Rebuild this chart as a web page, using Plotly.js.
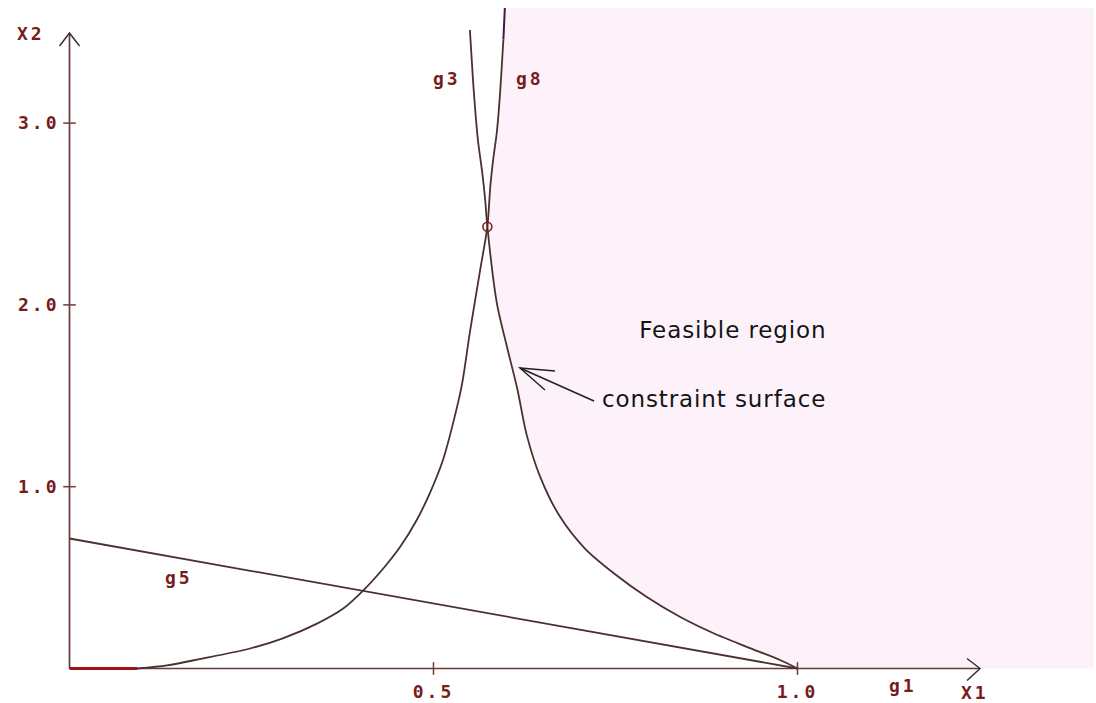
<!DOCTYPE html>
<html><head><meta charset="utf-8">
<script src="https://cdn.plot.ly/plotly-3.0.1.min.js"></script>
<style>
html,body{margin:0;padding:0;background:#fff;}
#chart{width:1096px;height:703px;}
.xtick text, .ytick text { letter-spacing:3px; }
.annotation text { letter-spacing:3px; }
.annotation[data-index="6"] text, .annotation[data-index="7"] text { letter-spacing:0.9px; }
</style>
</head><body><div id="chart"></div>
<script>
// ---- data ----
// g8: rises from the x1 axis near 0.09 and ends at the top right of the cusp
const g8X = [0.093, 0.134, 0.179, 0.248, 0.293, 0.340, 0.376, 0.403, 0.431, 0.454, 0.477, 0.495, 0.513, 0.527, 0.539, 0.550, 0.564, 0.574, 0.578, 0.582, 0.587, 0.591, 0.596];
const g8Y = [0.0, 0.017, 0.052, 0.110, 0.166, 0.247, 0.330, 0.427, 0.550, 0.668, 0.817, 0.965, 1.147, 1.351, 1.56, 1.85, 2.19, 2.43, 2.65, 2.80, 2.95, 3.14, 3.46];
// g3: rises from (1.0, 0) and ends at the top left of the cusp
const g3X = [1.0, 0.976, 0.931, 0.884, 0.839, 0.793, 0.749, 0.708, 0.673, 0.646, 0.628, 0.615, 0.601, 0.587, 0.574, 0.571, 0.567, 0.561, 0.557, 0.554, 0.550];
const g3Y = [0.0, 0.047, 0.118, 0.195, 0.283, 0.393, 0.520, 0.660, 0.840, 1.060, 1.285, 1.540, 1.768, 2.010, 2.43, 2.577, 2.726, 2.907, 3.088, 3.253, 3.512];
// g5: straight line
const g5X = [0.0, 1.0];
const g5Y = [0.715, 0.0];
// g1: short bold piece on the x1 axis
const g1X = [0.0, 0.093];
const g1Y = [0.0, 0.0];
// optimum (cusp)
const optX = [0.574];
const optY = [2.43];
// feasible region extents
const regionLeftX = 0.598;
const regionTopY = 3.633;
const regionRightX = 1.407;
// axes
const xAxisLine = [0, 1.2507];
const yAxisLine = [0, 3.4956];
const xTickVals = [0.5, 1.0];
const xTickText = ['0.5', '1.0'];
const yTickVals = [1.0, 2.0, 3.0];
const yTickText = ['1.0', '2.0', '3.0'];

// ---- geometry helpers ----
const W = 1096, H = 703;
const xr = [-0.09547, 1.41003], yr = [-0.18977, 3.6771];
const pxX = x => (x - xr[0]) / (xr[1] - xr[0]) * W;
const pxY = y => H - (y - yr[0]) / (yr[1] - yr[0]) * H;
const pX = px => px / W;
const pY = py => 1 - py / H;

const axisCol = '#6a3a3a';
const curveCol = '#4a3030';
const labCol = '#761c1c';
const bgiFont = {family: 'DejaVu Sans Mono', size: 18, color: labCol, weight: 'bold'};
const textFont = {family: 'DejaVu Sans', size: 23, color: '#141414'};

// feasible polygon: right of g8 (above cusp) and right of g3 (below cusp)
const cuspY = optY[0];
const polyX = [regionLeftX], polyY = [regionTopY];
for (let i = g8X.length - 1; i >= 0; i--) { if (g8Y[i] >= cuspY) { polyX.push(g8X[i]); polyY.push(g8Y[i]); } }
for (let i = g3X.length - 1; i >= 0; i--) { if (g3Y[i] <= cuspY) { polyX.push(g3X[i]); polyY.push(g3Y[i]); } }
polyX.push(regionRightX, regionRightX, regionLeftX);
polyY.push(0, regionTopY, regionTopY);

const curveLine = {color: curveCol, width: 1.8, shape: 'spline', smoothing: 0.8};
const traces = [
  {x: polyX, y: polyY, mode: 'lines', fill: 'toself', fillcolor: '#fdf2fa', line: {width: 0}, hoverinfo: 'skip'},
  {x: [regionLeftX, g8X[g8X.length-1]], y: [regionTopY, g8Y[g8Y.length-1]], mode: 'lines', line: {color: '#4a1548', width: 2}},
  {x: xAxisLine, y: [0, 0], mode: 'lines', line: {color: axisCol, width: 1.7}},
  {x: [0, 0], y: yAxisLine, mode: 'lines', line: {color: axisCol, width: 1.7}},
  {x: xTickVals, y: xTickVals.map(() => 0), mode: 'markers', marker: {symbol: 'line-ns', size: 9, line: {color: axisCol, width: 1.5}}},
  {x: yTickVals.map(() => 0), y: yTickVals, mode: 'markers', marker: {symbol: 'line-ew', size: 9, line: {color: axisCol, width: 1.5}}},
  {x: g5X, y: g5Y, mode: 'lines', line: {color: curveCol, width: 1.8}},
  {x: g8X, y: g8Y, mode: 'lines', line: curveLine},
  {x: g3X, y: g3Y, mode: 'lines', line: curveLine},
  {x: g1X, y: g1Y, mode: 'lines', line: {color: '#a01212', width: 3}},
  {x: optX, y: optY, mode: 'markers', marker: {symbol: 'circle-open', size: 9, color: '#8b1a1a', line: {width: 1.6, color: '#8b1a1a'}}}
];

// arrowheads of the axes (open V), built in pixels around the axis ends
const yTipPx = [pxX(0), pxY(yAxisLine[1])];
const xTipPx = [pxX(xAxisLine[1]), pxY(0)];
const vPath = (a, tip, b) => `M${pX(a[0])},${pY(a[1])} L${pX(tip[0])},${pY(tip[1])} L${pX(b[0])},${pY(b[1])}`;
// constraint-surface pointer
const ptrTip = [520, 368], ptrTail = [594, 401];

const shapes = [
  {type: 'path', xref: 'paper', yref: 'paper', path: vPath([yTipPx[0]-10, yTipPx[1]+13], yTipPx, [yTipPx[0]+10, yTipPx[1]+13]), line: {color: '#333', width: 1.5}},
  {type: 'path', xref: 'paper', yref: 'paper', path: vPath([xTipPx[0]-13, xTipPx[1]-10], xTipPx, [xTipPx[0]-13, xTipPx[1]+12]), line: {color: '#333', width: 1.5}},
  {type: 'path', xref: 'paper', yref: 'paper', path: `M${pX(ptrTail[0])},${pY(ptrTail[1])} L${pX(ptrTip[0])},${pY(ptrTip[1])}`, line: {color: '#222', width: 1.6}},
  {type: 'path', xref: 'paper', yref: 'paper', path: vPath([555, 371], ptrTip, [545, 390]), line: {color: '#222', width: 1.5}}
];

const ann = (text, px, py, font) => ({text: text, x: pX(px), y: pY(py), xref: 'paper', yref: 'paper',
  xanchor: 'center', yanchor: 'middle', showarrow: false, font: font});
const annotations = [
  ann('X2', 31, 33, bgiFont),
  ann('g3', 447, 78, bgiFont),
  ann('g8', 530, 78, bgiFont),
  ann('g5', 179, 577, bgiFont),
  ann('g1', 903, 685, bgiFont),
  ann('X1', 975, 692, bgiFont),
  ann('Feasible region', 733, 330, textFont),
  ann('constraint surface', 714, 399, textFont)
];

const layout = {
  width: W, height: H,
  margin: {l: 0, r: 0, t: 0, b: 0},
  paper_bgcolor: '#ffffff', plot_bgcolor: '#ffffff',
  showlegend: false,
  xaxis: {range: xr, showgrid: false, zeroline: false, showline: false, ticks: '',
          tickmode: 'array', tickvals: xTickVals, ticktext: xTickText, tickfont: bgiFont,
          anchor: 'free', position: pY(pxY(0)), ticklabelstandoff: 11, fixedrange: true},
  yaxis: {range: yr, showgrid: false, zeroline: false, showline: false, ticks: '',
          tickmode: 'array', tickvals: yTickVals, ticktext: yTickText, tickfont: bgiFont,
          anchor: 'free', position: pX(pxX(0)), ticklabelstandoff: 10, fixedrange: true},
  shapes: shapes,
  annotations: annotations
};

Plotly.newPlot('chart', traces, layout, {displayModeBar: false, staticPlot: true});
</script>
</body></html>
